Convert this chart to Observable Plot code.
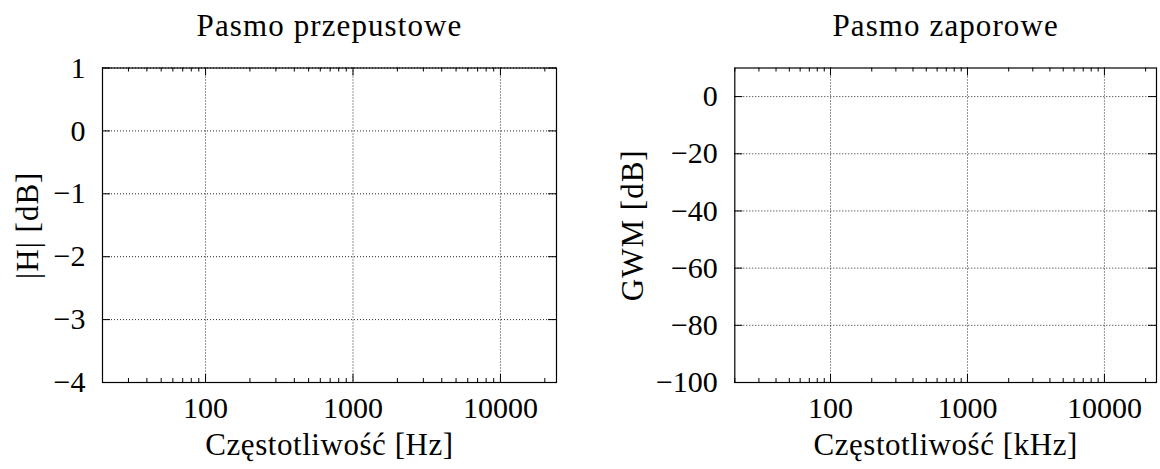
<!DOCTYPE html>
<html>
<head>
<meta charset="utf-8">
<script src="https://cdn.jsdelivr.net/npm/d3@7"></script>
<script src="https://cdn.jsdelivr.net/npm/@observablehq/plot@0.6"></script>
<style>
  html, body { margin: 0; padding: 0; background: white; }
  #chart { display: flex; width: 1160px; height: 469px; }
</style>
</head>
<body>
<div id="chart"></div>
<script>
// ---- data ----
const xDomain = [20, 24000];
const xMajor = [100, 1000, 10000];
const xTickLabels = ["100", "1000", "10000"];
const xMinor = [20, 30, 40, 50, 60, 70, 80, 90,
                200, 300, 400, 500, 600, 700, 800, 900,
                2000, 3000, 4000, 5000, 6000, 7000, 8000, 9000,
                20000];

const passDomain = [-4, 1];
const passTicks = [-4, -3, -2, -1, 0, 1];
const passTickLabels = ["−4", "−3", "−2", "−1", "0", "1"];

const stopDomain = [-100, 10];
const stopTicks = [-100, -80, -60, -40, -20, 0];
const stopTickLabels = ["−100", "−80", "−60", "−40", "−20", "0"];

const titles = ["Pasmo przepustowe", "Pasmo zaporowe"];
const yLabels = ["|H| [dB]", "GWM [dB]"];
const xLabels = ["Częstotliwość [Hz]", "Częstotliwość [kHz]"];

// ---- drawing ----
function panel({width, ml, mr, yDomain, yTicks, yTickLabels, title, ylabel, xlabel, ylabelX}) {
  const H = 469, mt = 67.5, mb = 87;
  const fh = H - mt - mb, fw = width - ml - mr;
  const major = 8, minor = 4;
  const gridStyle = {stroke: "#000", strokeOpacity: 0.85, strokeWidth: 1, strokeDasharray: "1,2"};
  const tickStyle = {stroke: "#000", strokeWidth: 1};
  const labelStyle = {fill: "black", fontSize: 31, textAnchor: "middle", lineAnchor: "middle"};
  const svg = Plot.plot({
    width, height: H,
    marginLeft: ml, marginRight: mr, marginTop: mt, marginBottom: mb,
    x: {type: "log", domain: xDomain, axis: null},
    y: {domain: yDomain, axis: null},
    style: {fontFamily: "'Liberation Serif', serif", background: "white", overflow: "visible"},
    marks: [
      // grid
      Plot.ruleX(xMajor, {x: d => d, ...gridStyle}),
      Plot.ruleY(yTicks, {y: d => d, ...gridStyle}),
      // x ticks (inward, bottom & top)
      Plot.ruleX(xMajor, {x: d => d, insetTop: fh - major, ...tickStyle}),
      Plot.ruleX(xMajor, {x: d => d, insetBottom: fh - major, ...tickStyle}),
      Plot.ruleX(xMinor, {x: d => d, insetTop: fh - minor, ...tickStyle}),
      Plot.ruleX(xMinor, {x: d => d, insetBottom: fh - minor, ...tickStyle}),
      // y ticks (inward, left & right)
      Plot.ruleY(yTicks, {y: d => d, insetRight: fw - major, ...tickStyle}),
      Plot.ruleY(yTicks, {y: d => d, insetLeft: fw - major, ...tickStyle}),
      Plot.frame({stroke: "black", strokeWidth: 1.2}),
      // tick labels
      Plot.text(xMajor, {x: d => d, text: (d, i) => xTickLabels[i], frameAnchor: "bottom",
        lineAnchor: "middle", dy: 25.7, fontSize: 30, fill: "black"}),
      Plot.text(yTicks, {y: d => d, text: (d, i) => yTickLabels[i], frameAnchor: "left",
        textAnchor: "end", lineAnchor: "middle", dx: -17, fontSize: 30, fill: "black"}),
      // titles and axis labels
      Plot.text([title], {text: d => d, frameAnchor: "top", dy: -41.5, ...labelStyle}),
      Plot.text([xlabel], {text: d => d, frameAnchor: "bottom", dy: 63, ...labelStyle}),
      Plot.text([ylabel], {text: d => d, frameAnchor: "left", rotate: -90, dx: ylabelX - ml, ...labelStyle})
    ]
  });
  // widen the serif labels slightly to match the reference typeface's metrics
  const spacing = new Map([[title, "1.1px"], [xlabel, "0.55px"], [ylabel, "1px"]]);
  d3.select(svg).selectAll("text").each(function() {
    const s = spacing.get(this.textContent);
    if (s) this.style.letterSpacing = s;
  });
  return svg;
}

const chart = document.getElementById("chart");
chart.append(panel({
  width: 580, ml: 102, mr: 24,
  yDomain: passDomain, yTicks: passTicks, yTickLabels: passTickLabels,
  title: titles[0], ylabel: yLabels[0], xlabel: xLabels[0], ylabelX: 28
}));
chart.append(panel({
  width: 580, ml: 154.3, mr: 4,
  yDomain: stopDomain, yTicks: stopTicks, yTickLabels: stopTickLabels,
  title: titles[1], ylabel: yLabels[1], xlabel: xLabels[1], ylabelX: 53
}));
</script>
</body>
</html>
